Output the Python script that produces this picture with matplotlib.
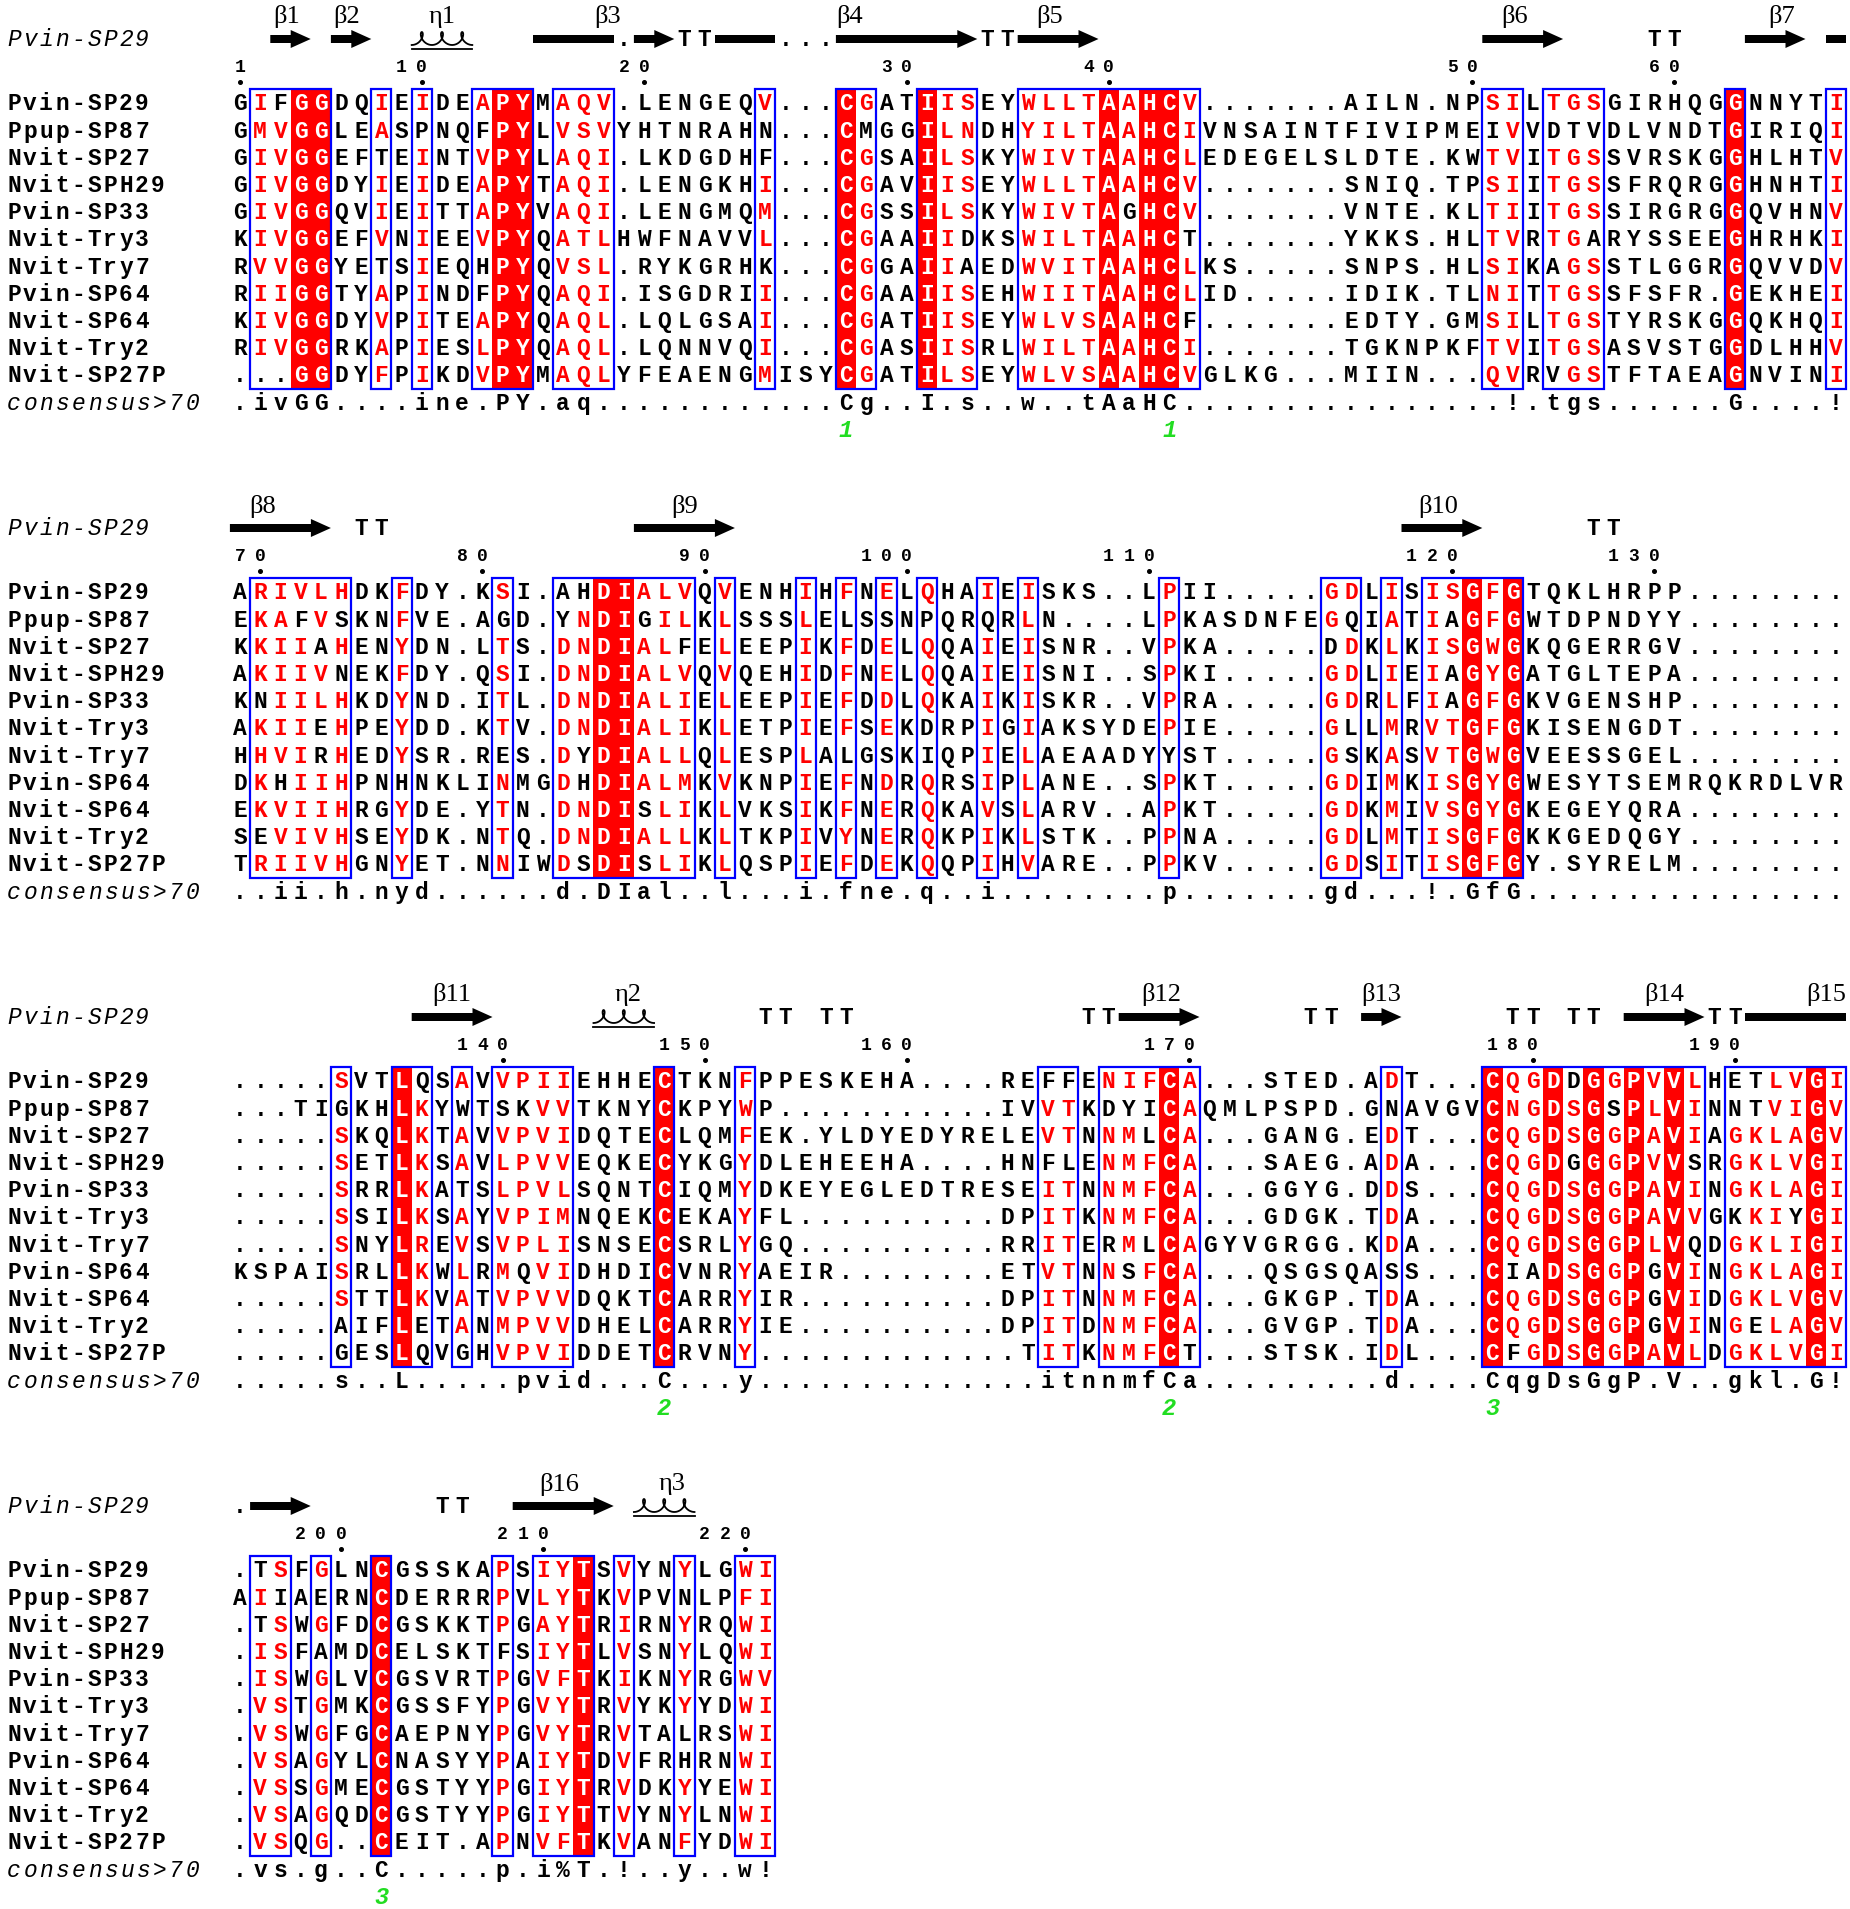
import matplotlib
matplotlib.use("Agg")
import matplotlib.pyplot as plt
from matplotlib.patches import Rectangle, Polygon
from matplotlib.font_manager import FontProperties
import numpy as np

# =============================================================================
# Data
# =============================================================================
names = ["Pvin-SP29", "Ppup-SP87", "Nvit-SP27", "Nvit-SPH29", "Pvin-SP33",
         "Nvit-Try3", "Nvit-Try7", "Pvin-SP64", "Nvit-SP64", "Nvit-Try2",
         "Nvit-SP27P"]

block1 = [
    "GIFGGDQIEIDEAPYMAQV.LENGEQV...CGATIISEYWLLTAAHCV.......AILN.NPSILTGSGIRHQGGNNYTI",
    "GMVGGLEASPNQFPYLVSVYHTNRAHN...CMGGILNDHYILTAAHCIVNSAINTFIVIPMEIVVDTVDLVNDTGIRIQI",
    "GIVGGEFTEINTVPYLAQI.LKDGDHF...CGSAILSKYWIVTAAHCLEDEGELSLDTE.KWTVITGSSVRSKGGHLHTV",
    "GIVGGDYIEIDEAPYTAQI.LENGKHI...CGAVIISEYWLLTAAHCV.......SNIQ.TPSIITGSSFRQRGGHNHTI",
    "GIVGGQVIEITTAPYVAQI.LENGMQM...CGSSILSKYWIVTAGHCV.......VNTE.KLTIITGSSIRGRGGQVHNV",
    "KIVGGEFVNIEEVPYQATLHWFNAVVL...CGAAIIDKSWILTAAHCT.......YKKS.HLTVRTGARYSSEEGHRHKI",
    "RVVGGYETSIEQHPYQVSL.RYKGRHK...CGGAIIAEDWVITAAHCLKS.....SNPS.HLSIKAGSSTLGGRGQVVDV",
    "RIIGGTYAPINDFPYQAQI.ISGDRII...CGAAIISEHWIITAAHCLID.....IDIK.TLNITTGSSFSFR.GEKHEI",
    "KIVGGDYVPITEAPYQAQL.LQLGSAI...CGATIISEYWLVSAAHCF.......EDTY.GMSILTGSTYRSKGGQKHQI",
    "RIVGGRKAPIESLPYQAQL.LQNNVQI...CGASIISRLWILTAAHCI.......TGKNPKFTVITGSASVSTGGDLHHV",
    "...GGDYFPIKDVPYMAQLYFEAENGMISYCGATILSEYWLVSAAHCVGLKG...MIIN...QVRVGSTFTAEAGNVINI",
]
block2 = [
    "ARIVLHDKFDY.KSI.AHDIALVQVENHIHFNELQHAIEISKS..LPII.....GDLISISGFGTQKLHRPP........",
    "EKAFVSKNFVE.AGD.YNDIGILKLSSSLELSSNPQRQRLN....LPKASDNFEGQIATIAGFGWTDPNDYY........",
    "KKIIAHENYDN.LTS.DNDIALFELEEPIKFDELQQAIEISNR..VPKA.....DDKLKISGWGKQGERRGV........",
    "AKIIVNEKFDY.QSI.DNDIALVQVQEHIDFNELQQAIEISNI..SPKI.....GDLIEIAGYGATGLTEPA........",
    "KNIILHKDYND.ITL.DNDIALIELEEPIEFDDLQKAIKISKR..VPRA.....GDRLFIAGFGKVGENSHP........",
    "AKIIEHPEYDD.KTV.DNDIALIKLETPIEFSEKDRPIGIAKSYDEPIE.....GLLMRVTGFGKISENGDT........",
    "HHVIRHEDYSR.RES.DYDIALLQLESPLALGSKIQPIELAEAADYYST.....GSKASVTGWGVEESSGEL........",
    "DKHIIHPNHNKLINMGDHDIALMKVKNPIEFNDRQRSIPLANE..SPKT.....GDIMKISGYGWESYTSEMRQKRDLVR",
    "EKVIIHRGYDE.YTN.DNDISLIKLVKSIKFNERQKAVSLARV..APKT.....GDKMIVSGYGKEGEYQRA........",
    "SEVIVHSEYDK.NTQ.DNDIALLKLTKPIVYNERQKPIKLSTK..PPNA.....GDLMTISGFGKKGEDQGY........",
    "TRIIVHGNYET.NNIWDSDISLIKLQSPIEFDEKQQPIHVARE..PPKV.....GDSITISGFGY.SYRELM........",
]
block3 = [
    ".....SVTLQSAVVPIIEHHECTKNFPPESKEHA....REFFENIFCA...STED.ADT...CQGDDGGPVVLHETLVGI",
    "...TIGKHLKYWTSKVVTKNYCKPYWP...........IVVTKDYICAQMLPSPD.GNAVGVCNGDSGSPLVINNTVIGV",
    ".....SKQLKTAVVPVIDQTECLQMFEK.YLDYEDYRELEVTNNMLCA...GANG.EDT...CQGDSGGPAVIAGKLAGV",
    ".....SETLKSAVLPVVEQKECYKGYDLEHEEHA....HNFLENMFCA...SAEG.ADA...CQGDGGGPVVSRGKLVGI",
    ".....SRRLKATSLPVLSQNTCIQMYDKEYEGLEDTRESEITNNMFCA...GGYG.DDS...CQGDSGGPAVINGKLAGI",
    ".....SSILKSAYVPIMNQEKCEKAYFL..........DPITKNMFCA...GDGK.TDA...CQGDSGGPAVVGKKIYGI",
    ".....SNYLREVSVPLISNSECSRLYGQ..........RRITERMLCAGYVGRGG.KDA...CQGDSGGPLVQDGKLIGI",
    "KSPAISRLLKWLRMQVIDHDICVNRYAEIR........ETVTNNSFCA...QSGSQASS...CIADSGGPGVINGKLAGI",
    ".....STTLKVATVPVVDQKTCARRYIR..........DPITNNMFCA...GKGP.TDA...CQGDSGGPGVIDGKLVGV",
    ".....AIFLETANMPVVDHELCARRYIE..........DPITDNMFCA...GVGP.TDA...CQGDSGGPGVINGELAGV",
    ".....GESLQVGHVPVIDDETCRVNY.............TITKNMFCT...STSK.IDL...CFGDSGGPAVLDGKLVGI",
]
block4 = [
    ".TSFGLNCGSSKAPSIYTSVYNYLGWI",
    "AIIAERNCDERRRPVLYTKVPVNLPFI",
    ".TSWGFDCGSKKTPGAYTRIRNYRQWI",
    ".ISFAMDCELSKTFSIYTLVSNYLQWI",
    ".ISWGLVCGSVRTPGVFTKIKNYRGWV",
    ".VSTGMKCGSSFYPGVYTRVYKYYDWI",
    ".VSWGFGCAEPNYPGVYTRVTALRSWI",
    ".VSAGYLCNASYYPAIYTDVFRHRNWI",
    ".VSSGMECGSTYYPGIYTRVDKYYEWI",
    ".VSAGQDCGSTYYPGIYTTVYNYLNWI",
    ".VSQG..CEIT.APNVFTKVANFYDWI",
]
blocks = [block1, block2, block3, block4]

consensus = [
    ".ivGG....ine.PY.aq............Cg..I.s..w..tAaHC................!.tgs......G....!",
    "..ii.h.nyd......d.DIal..l...i.fne.q..i........p.......gd...!.GfG................",
    ".....s..L.....pvid...C...y..............itnnmfCa.........d....CqgDsGgP.V..gkl.G!",
    ".vs.g..C.....p.i%T.!..y..w!",
]

# strictly conserved columns (red box, white letter)
identity = [
    [4, 5, 14, 15, 31, 35, 44, 46, 47, 75],
    [19, 20, 62, 64],
    [9, 22, 47, 63, 66, 68, 70, 72, 79],
    [8, 18],
]
# blue frames (first, last column)
frames = [
    [(2, 5), (8, 8), (10, 10), (13, 15), (17, 19), (27, 27), (31, 32), (35, 37),
     (40, 48), (63, 64), (66, 68), (75, 75), (80, 80)],
    [(2, 6), (9, 9), (14, 14), (17, 23), (25, 25), (29, 29), (31, 31), (33, 33),
     (35, 35), (38, 38), (40, 40), (47, 47), (55, 56), (58, 58), (60, 64)],
    [(6, 6), (9, 10), (12, 12), (14, 17), (22, 22), (26, 26), (41, 42), (44, 48),
     (58, 58), (63, 73), (75, 80)],
    [(2, 3), (5, 5), (8, 8), (14, 14), (16, 18), (20, 20), (23, 23), (26, 27)],
]
# residues inside frames that stay black: column -> sequence rows (1-based)
black_res = [
    {3: [1], 8: [3, 7], 10: [2], 13: [2, 7, 8], 27: [2, 3, 7], 32: [2],
     37: [6, 7], 45: [5], 48: [6, 9], 63: [2], 66: [2, 7, 11], 67: [2],
     68: [2, 6]},
    {2: [5, 10], 3: [8], 4: [2], 5: [3, 6, 7], 6: [2, 4], 9: [8], 14: [2, 7],
     17: [1, 2], 18: [1, 7, 8, 11], 21: [2, 9, 11], 23: [3], 31: [2, 7],
     33: [2, 7], 35: [2, 6, 7], 38: [2], 47: [7], 55: [3], 56: [2, 6, 7],
     61: [2, 4, 5]},
    {6: [2, 10, 11], 10: [1, 10, 11], 12: [2, 5, 11], 14: [2], 15: [2, 8],
     41: [1, 4], 42: [1, 4], 44: [2, 7], 45: [2, 8], 46: [2, 3, 7], 48: [11],
     58: [2, 8], 64: [8, 11], 65: [8], 67: [1, 4], 69: [2], 71: [8, 9, 10],
     73: [4, 7], 75: [1, 2, 6], 76: [1, 2, 10], 78: [6]},
    {2: [1, 3], 3: [2], 5: [2, 4], 14: [4], 23: [2, 7, 8]},
]
# disulfide bridge numbers under the consensus
bonds = [[(31, "1"), (47, "1")], [], [(22, "2"), (47, "2"), (63, "3")], [(8, "3")]]

# secondary structure of Pvin-SP29: (kind, first col, last col, label, label col)
ss = [
    [("arrow", 3, 4, "β1", 3.3), ("arrow", 6, 7, "β2", 6.3), ("helix", 10, 12, "η1", 11),
     ("bar", 16, 19, "β3", 19.2), ("gap", 20, 20), ("arrow", 21, 22), ("turn", 23, 24),
     ("bar", 25, 27), ("gap", 28, 30), ("arrow", 31, 37, "β4", 31.2), ("turn", 38, 39),
     ("arrow", 40, 43, "β5", 41.1), ("arrow", 63, 66, "β6", 64.1), ("turn", 71, 72),
     ("arrow", 76, 78, "β7", 77.3), ("bar", 80, 80)],
    [("arrow", 1, 5, "β8", 2.1), ("turn", 7, 8), ("arrow", 21, 25, "β9", 23),
     ("arrow", 59, 62, "β10", 60.3), ("turn", 68, 69)],
    [("arrow", 10, 13, "β11", 11.5), ("helix", 19, 21, "η2", 20.2), ("turn", 27, 28),
     ("turn", 30, 31), ("turn", 43, 44), ("arrow", 45, 48, "β12", 46.6),
     ("turn", 54, 55), ("arrow", 57, 58, "β13", 57.5), ("turn", 64, 65),
     ("turn", 67, 68), ("arrow", 70, 73, "β14", 71.5), ("turn", 74, 75),
     ("bar", 76, 80, "β15", 79.5)],
    [("gap", 1, 1), ("arrow", 2, 4), ("turn", 11, 12), ("arrow", 15, 19, "β16", 16.8),
     ("helix", 21, 23, "η3", 22.4)],
]

for b in blocks:
    for s in b:
        assert len(s) == len(b[0]), s

# =============================================================================
# Layout
# =============================================================================
W, H = 1850, 1909
X1 = 240.0      # centre of column 1
CW = 20.2       # column width
ROWH = 27.2
NAME_X = 14.0
NAME_DX = 16.0
RED = "#ff0000"
BLUE = "#0000ff"
GREEN = "#22dd22"

seq_font = FontProperties(family="Liberation Mono", weight="bold", size=16.5)
name_font = FontProperties(family="Liberation Mono", weight="bold", size=16.5)
ital_font = FontProperties(family="Liberation Mono", style="italic", size=16.5)
num_font = FontProperties(family="Liberation Mono", weight="bold", size=13)
greek_font = FontProperties(family="Liberation Serif", size=19)
green_font = FontProperties(family="Liberation Mono", style="italic", weight="bold", size=17)


def colx(c):
    return X1 + (c - 1) * CW


fig = plt.figure(figsize=(W / 100, H / 100), dpi=100)
ax = fig.add_axes([0, 0, 1, 1])
ax.set_xlim(0, W)
ax.set_ylim(H, 0)
ax.axis("off")


def put(x, y, s, fp, color="black", z=3):
    # y is the visual centre of capital letters
    ax.text(x, y + 7.4, s, fontproperties=fp, color=color, ha="center",
            va="baseline", zorder=z)


def put_word(x0, y, s, fp, dx=NAME_DX):
    for i, ch in enumerate(s):
        put(x0 + i * dx, y, ch, fp)


def draw_arrow(c0, c1, y):
    xa, xb = colx(c0) - CW / 2, colx(c1) + CW / 2
    hl = min(20.0, (xb - xa) * 0.5)
    xh = xb - hl
    pts = [(xa, y - 4.0), (xh, y - 4.0), (xh, y - 9.0), (xb, y),
           (xh, y + 9.0), (xh, y + 4.0), (xa, y + 4.0)]
    ax.add_patch(Polygon(pts, closed=True, fc="black", ec="none", zorder=3))


def draw_bar(c0, c1, y):
    xa, xb = colx(c0) - CW / 2, colx(c1) + CW / 2
    ax.add_patch(Rectangle((xa, y - 4.0), xb - xa, 8.0, fc="black", ec="none", zorder=3))


def draw_helix(c0, c1, y):
    n = c1 - c0 + 1
    xa = colx(c0) - CW / 2
    t = np.linspace(0, 2 * np.pi * n, 60 * n)
    x = xa + CW * t / (2 * np.pi) + 5.0 * np.sin(t)
    yy = (y + 6) - 6.5 * (1 - np.cos(t))
    ax.plot(x, yy, color="black", lw=1.3, zorder=3)
    ax.plot([xa, colx(c1) + CW / 2], [y + 10, y + 10], color="black", lw=1.3, zorder=3)


# =============================================================================
# Draw the four blocks
# =============================================================================
res_no = 0
for b, seqs in enumerate(blocks):
    y0 = 103 + 489 * b
    ys = [y0 + i * ROWH for i in range(len(seqs))]
    top, bot = ys[0] - 14, ys[-1] + 14

    # secondary structure line
    y_ss = y0 - 64
    put_word(NAME_X, y_ss, "Pvin-SP29", ital_font)
    for el in ss[b]:
        kind, c0, c1 = el[0], el[1], el[2]
        if kind == "arrow":
            draw_arrow(c0, c1, y_ss)
        elif kind == "bar":
            draw_bar(c0, c1, y_ss)
        elif kind == "helix":
            draw_helix(c0, c1, y_ss)
        elif kind == "turn":
            for c in range(c0, c1 + 1):
                put(colx(c), y_ss, "T", seq_font)
        elif kind == "gap":
            for c in range(c0, c1 + 1):
                put(colx(c), y_ss, ".", seq_font)
        if len(el) > 3:
            ax.text(colx(el[4]), y0 - 86, el[3], fontproperties=greek_font,
                    ha="center", va="center", zorder=3)

    # numbering of Pvin-SP29 residues
    for c, ch in enumerate(seqs[0], start=1):
        if ch == ".":
            continue
        res_no += 1
        if res_no == 1 or res_no % 10 == 0:
            digits = str(res_no)
            for k, d in enumerate(reversed(digits)):
                ax.text(colx(c - k), y0 - 37 + 6, d, fontproperties=num_font,
                        ha="center", va="baseline", zorder=3)
            ax.plot(colx(c), y0 - 21, marker="o", ms=2.6, color="black", zorder=3)

    # red boxes of identical columns
    for c in identity[b]:
        ax.add_patch(Rectangle((colx(c) - CW / 2, top), CW, bot - top,
                               fc=RED, ec="none", zorder=1))

    similar = set()
    for c0, c1 in frames[b]:
        similar.update(range(c0, c1 + 1))

    # names and residues
    for r, s in enumerate(seqs):
        put_word(NAME_X, ys[r], names[r], name_font)
        for c, ch in enumerate(s, start=1):
            if c in identity[b] and ch != ".":
                color = "white"
            elif c in similar and ch != "." and (r + 1) not in black_res[b].get(c, []):
                color = RED
            else:
                color = "black"
            put(colx(c), ys[r], ch, seq_font, color)

    # consensus line
    y_c = y0 + len(seqs) * ROWH
    put_word(NAME_X, y_c, "consensus>70", ital_font, dx=16.2)
    for c, ch in enumerate(consensus[b], start=1):
        put(colx(c), y_c, ch, seq_font)
    for c, lab in bonds[b]:
        put(colx(c), y_c + 27, lab, green_font, GREEN)

    # blue frames
    for c0, c1 in frames[b]:
        ax.add_patch(Rectangle((colx(c0) - CW / 2, top), (c1 - c0 + 1) * CW, bot - top,
                               fc="none", ec=BLUE, lw=1.6, zorder=4))

fig.savefig("out.png", dpi=100, facecolor="white")
